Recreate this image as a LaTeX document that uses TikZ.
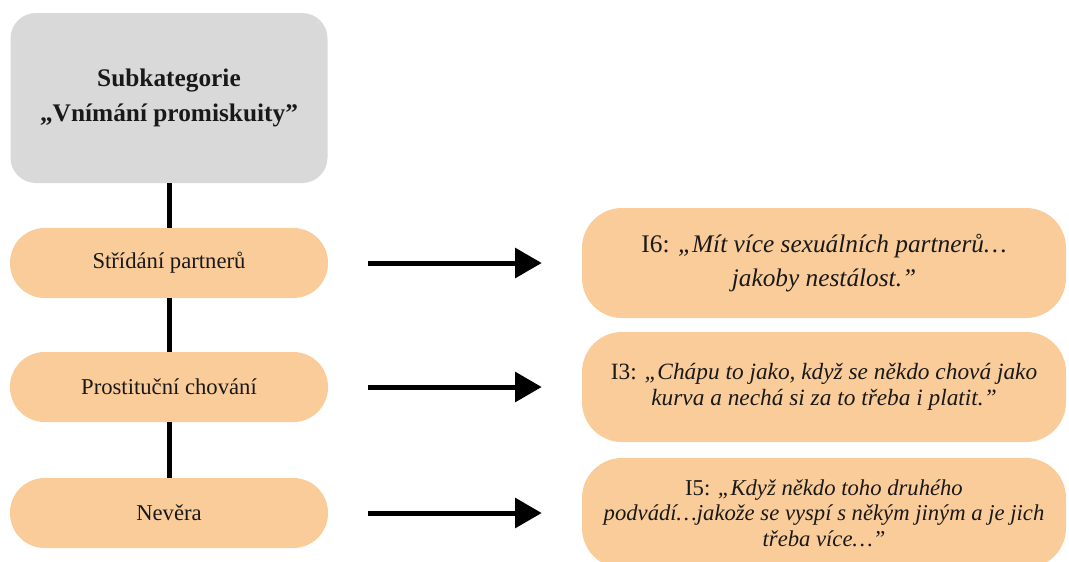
\documentclass[tikz,border=0pt]{standalone}
\usepackage{fontspec}
\setmainfont{Liberation Serif}
\usetikzlibrary{arrows.meta,positioning}
\definecolor{peach}{RGB}{250,204,153}
\definecolor{greybox}{RGB}{217,217,217}

\begin{document}
\begin{tikzpicture}[x=0.75pt, y=-0.75pt,
                    every node/.style={font=\fontsize{17}{21}\selectfont, text=black!90},
                    category/.style={fill=greybox, rounded corners=19pt,
                        minimum width=237.75pt, minimum height=127.5pt, align=center,
                        font=\fontsize{19}{26}\selectfont\bfseries},
                    theme/.style={fill=peach, rounded corners=26pt,
                        minimum width=238.5pt, minimum height=52.5pt},
                    quote/.style={fill=peach, rounded corners=30pt,
                        minimum width=363pt, minimum height=82.5pt, align=center},
                    link/.style={line width=3.75pt},
                    pointer/.style={line width=3.75pt, -{Triangle[length=20pt,width=22pt]},
                        shorten <=30pt, shorten >=30pt}]
    %\draw[help lines] (0,0) grid (1069,561);
   \path[use as bounding box, clip] (0,0) rectangle (1069,561);

   \node[category] (cat) at (169,98) {Subkategorie\\„Vnímání promiskuity”};

   \node[theme] (stridani) at (169,263) {Střídání partnerů};
   \node[theme] (prostituce) at (169,387) {Prostituční chování};
   \node[theme] (nevera) at (169,513) {Nevěra};

   \node[quote, font=\fontsize{19}{25}\selectfont] (i6) at (824,263)
        {I6: \textit{„Mít více sexuálních partnerů…}\\\textit{jakoby nestálost.”}};
   \node[quote, font=\fontsize{17.5}{20}\selectfont] (i3) at (824,387)
        {I3: \textit{„Chápu to jako, když se někdo chová jako}\\\textit{kurva a nechá si za to třeba i platit.”}};
   \node[quote, font=\fontsize{17}{19}\selectfont] (i5) at (824,513)
        {I5: \textit{„Když někdo toho druhého}\\\textit{podvádí…jakože se vyspí s někým jiným a je jich}\\\textit{třeba více…”}};

   % Define connections
   \draw[link] (cat) -- (stridani);
   \draw[link] (stridani) -- (prostituce);
   \draw[link] (prostituce) -- (nevera);

   \draw[pointer] (stridani) -- (i6);
   \draw[pointer] (prostituce) -- (i3);
   \draw[pointer] (nevera) -- (i5);

\end{tikzpicture}
\end{document}
